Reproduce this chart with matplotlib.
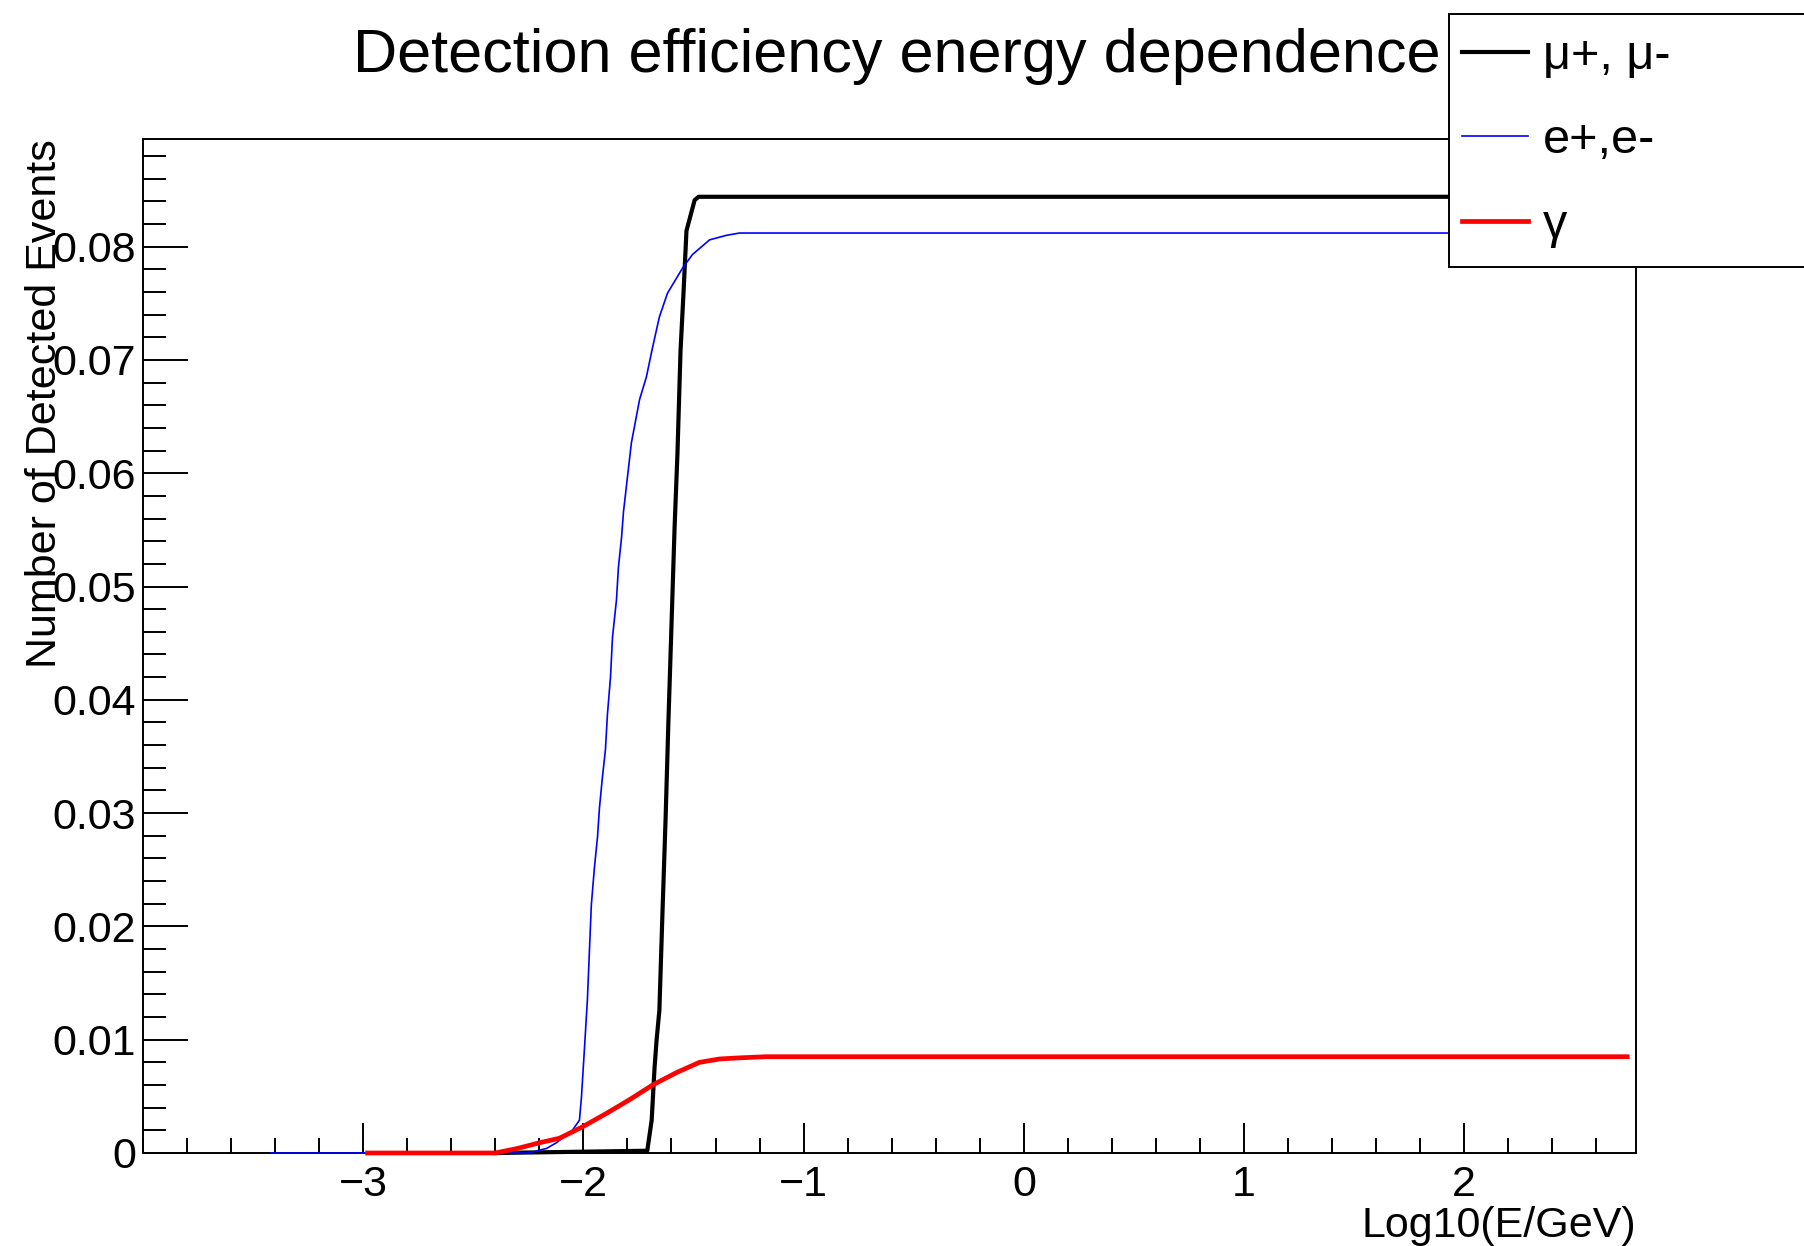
import matplotlib.pyplot as plt
from matplotlib.ticker import FixedLocator, MultipleLocator
from matplotlib.patches import Rectangle

plt.rcParams['font.family'] = ['Liberation Sans', 'DejaVu Sans']

# values (x = log10(E/GeV))
mu_x = [-2.40, -1.71, -1.69, -1.677, -1.668, -1.655, -1.641, -1.627, -1.614,
        -1.600, -1.586, -1.573, -1.559, -1.545, -1.532, -1.495, -1.477, 2.74]
mu_y = [0.0, 0.0002, 0.0029, 0.0075, 0.0099, 0.0126, 0.0212, 0.0294, 0.0381,
        0.0466, 0.0552, 0.0617, 0.0708, 0.0761, 0.0814, 0.0841, 0.0844, 0.0844]

e_x = [-3.42, -2.25, -2.168, -2.123, -2.05, -2.018, -2.009, -1.995, -1.982,
       -1.973, -1.964, -1.95, -1.936, -1.927, -1.914, -1.90, -1.891, -1.877,
       -1.868, -1.85, -1.841, -1.827, -1.818, -1.805, -1.782, -1.745, -1.714,
       -1.686, -1.655, -1.618, -1.55, -1.505, -1.427, -1.35, -1.291, 2.74]
e_y = [0.0, 0.0, 0.0004, 0.0009, 0.0020, 0.0029, 0.0049, 0.0093, 0.0135,
       0.0177, 0.0219, 0.0252, 0.0279, 0.0305, 0.0331, 0.0356, 0.0387, 0.0420,
       0.0455, 0.0488, 0.0517, 0.0543, 0.0566, 0.0588, 0.0627, 0.0665, 0.0685,
       0.0711, 0.0738, 0.0759, 0.0781, 0.0793, 0.0806, 0.0810, 0.0812, 0.0812]

g_x = [-2.98, -2.40, -2.30, -2.20, -2.109, -2.005, -1.895, -1.791, -1.686,
       -1.577, -1.473, -1.382, -1.29, -1.17, 2.74]
g_y = [0.0, 0.0, 0.0004, 0.0009, 0.0013, 0.0023, 0.0035, 0.0047, 0.0060,
       0.0071, 0.0080, 0.0083, 0.0084, 0.0085, 0.0085]

labels = ['\u03bc+, \u03bc-', 'e+,e-', '\u03b3']
y_ticks = [0.0, 0.01, 0.02, 0.03, 0.04, 0.05, 0.06, 0.07, 0.08]
y_tick_labels = ['0', '0.01', '0.02', '0.03', '0.04', '0.05', '0.06', '0.07', '0.08']
x_ticks = [-3, -2, -1, 0, 1, 2]

fig = plt.figure(figsize=(18.04, 12.46), dpi=100)
ax = fig.add_axes([143 / 1804, 1 - 1153 / 1246, 1493 / 1804, 1014 / 1246])

l1, = ax.plot(mu_x, mu_y, color='black', lw=3.0, zorder=3, clip_on=False)
l2, = ax.plot(e_x, e_y, color='blue', lw=1.2, zorder=3, clip_on=False)
l3, = ax.plot(g_x, g_y, color='red', lw=3.4, zorder=3, clip_on=False)

ax.set_xlim(-4.0, 2.78)
ax.set_ylim(0, 0.0895)

ax.xaxis.set_major_locator(FixedLocator(x_ticks))
ax.xaxis.set_minor_locator(MultipleLocator(0.2))
ax.yaxis.set_major_locator(FixedLocator(y_ticks))
ax.set_yticklabels(y_tick_labels)
ax.yaxis.set_minor_locator(MultipleLocator(0.002))

ax.tick_params(axis='both', which='both', direction='in', width=1.4,
               top=False, right=False, labelsize=31)
ax.tick_params(axis='x', which='major', length=21.6, pad=9)
ax.tick_params(axis='x', which='minor', length=10.8)
ax.tick_params(axis='y', which='major', length=32.4, pad=5)
ax.tick_params(axis='y', which='minor', length=16.2)
for s in ax.spines.values():
    s.set_linewidth(1.4)

ax.set_xlabel('Log10(E/GeV)', fontsize=31, loc='right')
ax.xaxis.set_label_coords(1.0, -0.052)
ax.set_ylabel('Number of Detected Events', fontsize=31, loc='top')
ax.yaxis.set_label_coords(-0.052, 1.0)

fig.text(0.497, 1 - 72 / 1246, 'Detection efficiency energy dependence',
         ha='center', va='baseline', fontsize=44)

# legend box runs off the right edge, like the original canvas
fig.patches.append(Rectangle((1449 / 1804, 1 - 267 / 1246), 0.3, 253 / 1246,
                             transform=fig.transFigure, facecolor='white',
                             edgecolor='black', lw=1.4, zorder=4))
fig.legend([l1, l2, l3], labels, loc='upper left',
           bbox_to_anchor=(1462 / 1804, 1 - 34 / 1246), frameon=False,
           fontsize=35, handlelength=1.36, handletextpad=0.3,
           labelspacing=0.81, borderpad=0, borderaxespad=0)

fig.savefig('out.png', dpi=100)
